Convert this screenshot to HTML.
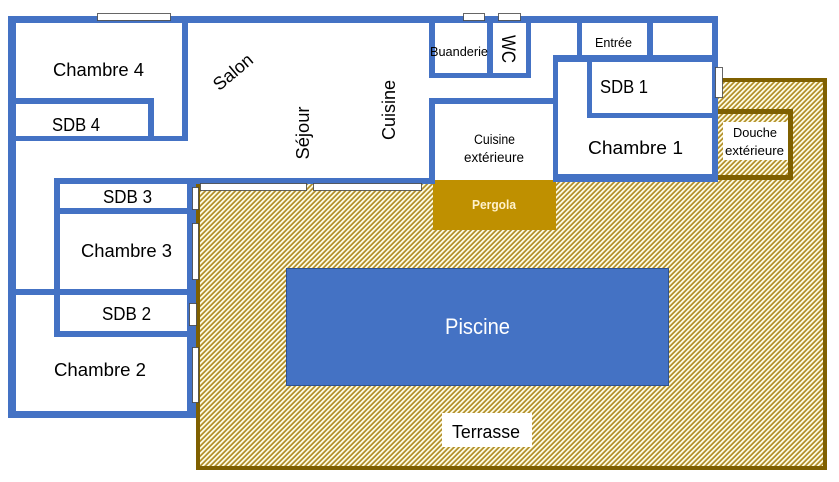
<!DOCTYPE html>
<html>
<head>
<meta charset="utf-8">
<style>
  html,body{margin:0;padding:0;background:#fff;}
  svg{display:block;}
  text{font-family:"Liberation Sans", sans-serif;}
</style>
</head>
<body>
<svg width="839" height="482" viewBox="0 0 839 482" xmlns="http://www.w3.org/2000/svg">
  <defs>
    <pattern id="hatch" patternUnits="userSpaceOnUse" x="0" y="0" width="5" height="5">
      <rect x="0" y="0" width="5" height="5" fill="#fffde6"/>
      <polygon points="0,0 2.5,0 0,2.5" fill="#b3902a"/>
      <polygon points="5,0 5,2.5 2.5,5 0,5" fill="#b3902a"/>
    </pattern>
  </defs>
  <rect x="0" y="0" width="839" height="482" fill="#ffffff"/>

  <!-- Terrasse -->
  <rect x="198" y="80" width="627" height="388" fill="url(#hatch)" stroke="#7f6000" stroke-width="4"/>

  <!-- House cover over terrace -->
  <rect x="188" y="24" width="528" height="158" fill="#ffffff"/>

  <!-- Douche extérieure border -->
  <path d="M716 111.5 H790.5 V177.5 H716" fill="none" stroke="#7f6000" stroke-width="5"/>
  <rect x="723" y="122" width="65" height="38" fill="#ffffff"/>

  <!-- Pergola -->
  <rect x="433" y="180" width="123" height="50" fill="#bf9000"/>

  <!-- Piscine -->
  <rect x="286.5" y="268.5" width="382" height="117" fill="#4472c4" stroke="#2f528f" stroke-width="1"/>

  <!-- Terrasse label box -->
  <rect x="442" y="413" width="90" height="34" fill="#ffffff"/>

  <!-- Walls -->
  <g fill="#4472c4">
    <rect x="8" y="16" width="710" height="7"/>
    <rect x="8" y="16" width="8" height="402"/>
    <rect x="8" y="411" width="187" height="7"/>
    <rect x="187" y="178" width="9" height="240"/>
    <rect x="182" y="16" width="6" height="125"/>
    <rect x="8" y="98" width="144" height="6"/>
    <rect x="148" y="98" width="6" height="40"/>
    <rect x="8" y="136" width="180" height="5"/>
    <rect x="54" y="178" width="381" height="6"/>
    <rect x="54" y="178" width="6" height="159"/>
    <rect x="54" y="208" width="136" height="6"/>
    <rect x="8" y="289" width="182" height="6"/>
    <rect x="54" y="331" width="136" height="6"/>
    <rect x="429" y="16" width="6" height="62"/>
    <rect x="429" y="73" width="102" height="5"/>
    <rect x="487" y="16" width="6" height="62"/>
    <rect x="526" y="16" width="5" height="62"/>
    <rect x="577" y="16" width="5" height="45"/>
    <rect x="553" y="55" width="165" height="7"/>
    <rect x="647" y="16" width="6" height="42"/>
    <rect x="712" y="16" width="6" height="166"/>
    <rect x="553" y="55" width="5" height="127"/>
    <rect x="587" y="58" width="5" height="60"/>
    <rect x="587" y="113" width="125" height="5"/>
    <rect x="553" y="174" width="165" height="8"/>
    <rect x="429" y="98" width="126" height="6"/>
    <rect x="429" y="98" width="6" height="84"/>
  </g>

  <!-- Windows -->
  <g fill="#ffffff" stroke="#404040" stroke-width="0.8">
    <rect x="97.5" y="13.5" width="73" height="7"/>
    <rect x="463.5" y="13.5" width="21" height="7"/>
    <rect x="498.5" y="13.5" width="22" height="7"/>
    <rect x="715.5" y="67.5" width="7" height="30"/>
    <rect x="200.5" y="183.5" width="106" height="7"/>
    <rect x="313.5" y="183.5" width="108" height="7"/>
    <rect x="192.5" y="187.5" width="6" height="22"/>
    <rect x="192.5" y="223.5" width="6" height="56"/>
    <rect x="189.5" y="303.5" width="7" height="22"/>
    <rect x="192.5" y="347.5" width="6" height="55"/>
  </g>

  <!-- Labels -->
  <g fill="#000000" text-anchor="middle">
    <text x="98.5" y="76" font-size="18" textLength="91" lengthAdjust="spacingAndGlyphs">Chambre 4</text>
    <text x="76" y="131" font-size="18" textLength="48" lengthAdjust="spacingAndGlyphs">SDB 4</text>
    <text x="127.5" y="203" font-size="18" textLength="49" lengthAdjust="spacingAndGlyphs">SDB 3</text>
    <text x="126.5" y="257" font-size="18" textLength="91" lengthAdjust="spacingAndGlyphs">Chambre 3</text>
    <text x="126.5" y="320" font-size="18" textLength="49" lengthAdjust="spacingAndGlyphs">SDB 2</text>
    <text x="100" y="376" font-size="18" textLength="92" lengthAdjust="spacingAndGlyphs">Chambre 2</text>

    <g transform="translate(233,72) rotate(-40)">
      <text x="0" y="6" font-size="18" textLength="46" lengthAdjust="spacingAndGlyphs">Salon</text>
    </g>
    <g transform="translate(303,133) rotate(-90)">
      <text x="0" y="6" font-size="18" textLength="53" lengthAdjust="spacingAndGlyphs">Séjour</text>
    </g>
    <g transform="translate(389,110) rotate(-90)">
      <text x="0" y="6" font-size="18" textLength="60" lengthAdjust="spacingAndGlyphs">Cuisine</text>
    </g>

    <text x="459" y="56" font-size="13" textLength="58" lengthAdjust="spacingAndGlyphs">Buanderie</text>
    <g transform="translate(509,49) rotate(90)">
      <text x="0" y="7" font-size="19" textLength="28" lengthAdjust="spacingAndGlyphs">WC</text>
    </g>
    <text x="613.5" y="47" font-size="13" textLength="37" lengthAdjust="spacingAndGlyphs">Entrée</text>
    <text x="624" y="93" font-size="18" textLength="48" lengthAdjust="spacingAndGlyphs">SDB 1</text>
    <text x="635.5" y="154" font-size="18" textLength="95" lengthAdjust="spacingAndGlyphs">Chambre  1</text>

    <text x="494.5" y="144" font-size="13.5" textLength="41" lengthAdjust="spacingAndGlyphs">Cuisine</text>
    <text x="494" y="162" font-size="13.5" textLength="60" lengthAdjust="spacingAndGlyphs">extérieure</text>

    <text x="755" y="137" font-size="13" textLength="44" lengthAdjust="spacingAndGlyphs">Douche</text>
    <text x="754.5" y="155" font-size="13" textLength="59" lengthAdjust="spacingAndGlyphs">extérieure</text>

    <text x="494" y="209" font-size="13" font-weight="bold" fill="#fff2cc" textLength="44" lengthAdjust="spacingAndGlyphs">Pergola</text>
    <text x="477.5" y="334" font-size="22" fill="#ffffff" textLength="65" lengthAdjust="spacingAndGlyphs">Piscine</text>
    <text x="486" y="438" font-size="18" textLength="68" lengthAdjust="spacingAndGlyphs">Terrasse</text>
  </g>
</svg>
</body>
</html>
